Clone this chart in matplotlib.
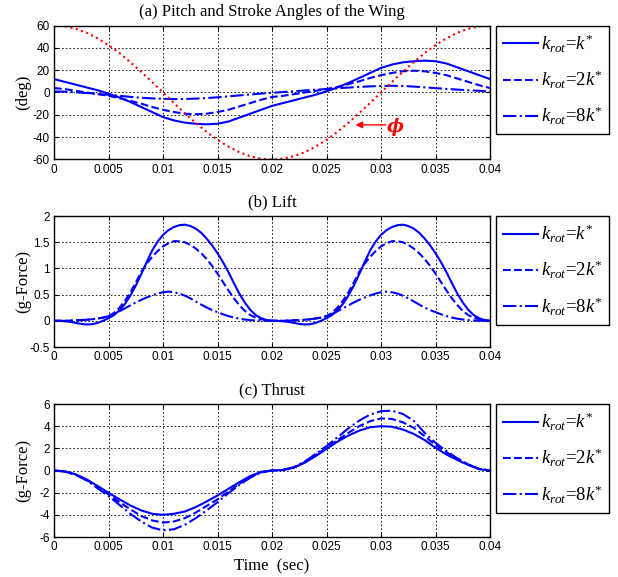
import numpy as np
import matplotlib
matplotlib.use('Agg')
import matplotlib.pyplot as plt

plt.rcParams['axes.unicode_minus'] = False
plt.rcParams['mathtext.fontset'] = 'custom'
plt.rcParams['mathtext.it'] = 'Liberation Serif:italic'
plt.rcParams['mathtext.rm'] = 'Liberation Serif'
plt.rcParams['mathtext.bf'] = 'Liberation Serif:bold'

# time samples (sec)
t = np.linspace(0, 0.04, 41)
t_fine = np.linspace(0, 0.04, 81)

# (a) pitch angle (deg) for each rotational stiffness, and the stroke angle phi
pitch_k1 = [12, 9.5, 7, 4.5, 2, -1, -4.5, -8.5, -13, -17.5, -22, -25, -27, -28, -28.5, -28, -26, -22.5, -19, -15.5, -12,
            -9.5, -7, -4.5, -2, 1, 4.5, 8.5, 13, 17.5, 22, 25, 27, 28, 28.5, 28, 26, 22.5, 19, 15.5, 12]
pitch_k2 = [4, 3, 1.5, 0, -1.5, -3, -5, -7.5, -10, -13, -15.5, -17.5, -19, -19.5, -19, -17.5, -15.5, -12.5, -9.5, -6.5, -4,
            -3, -1.5, 0, 1.5, 3, 5, 7.5, 10, 13, 15.5, 17.5, 19, 19.5, 19, 17.5, 15.5, 12.5, 9.5, 6.5, 4]
pitch_k8 = [1, 0.7, 0.2, -0.5, -1.3, -2.1, -3, -3.9, -4.7, -5.3, -5.7, -5.9, -5.8, -5.5, -5, -4.3, -3.5, -2.6, -1.8, -1, -0.3,
            0.4, 1.1, 1.8, 2.5, 3.1, 3.8, 4.4, 5, 5.5, 5.8, 6, 5.8, 5.3, 4.6, 3.9, 3.2, 2.6, 2, 1.5, 1]
phi = [60, 59.3, 57.1, 53.5, 48.5, 42.4, 35.3, 27.2, 18.5, 9.4, 0, -9.4, -18.5, -27.2, -35.3, -42.4, -48.5, -53.5, -57.1, -59.3, -60,
       -59.3, -57.1, -53.5, -48.5, -42.4, -35.3, -27.2, -18.5, -9.4, 0, 9.4, 18.5, 27.2, 35.3, 42.4, 48.5, 53.5, 57.1, 59.3, 60]

# (b) lift (g-force), read every 0.5 ms
lift_k1 = [0, 0, -0.01, -0.02, -0.04, -0.06, -0.07, -0.065, -0.04, 0,
           0.05, 0.11, 0.2, 0.32, 0.48, 0.67, 0.89, 1.12, 1.34, 1.51,
           1.64, 1.73, 1.79, 1.825, 1.835, 1.81, 1.76, 1.68, 1.57, 1.44,
           1.29, 1.12, 0.93, 0.72, 0.52, 0.35, 0.21, 0.11, 0.05, 0.015,
           0, 0, -0.01, -0.02, -0.04, -0.06, -0.07, -0.065, -0.04, 0,
           0.05, 0.11, 0.2, 0.32, 0.48, 0.67, 0.89, 1.12, 1.34, 1.51,
           1.64, 1.73, 1.79, 1.825, 1.835, 1.81, 1.76, 1.68, 1.57, 1.44,
           1.29, 1.12, 0.93, 0.72, 0.52, 0.35, 0.21, 0.11, 0.05, 0.015, 0]
lift_k2 = [0, 0, 0, 0.005, 0.01, 0.015, 0.02, 0.03, 0.045, 0.06,
           0.09, 0.15, 0.25, 0.38, 0.54, 0.73, 0.93, 1.09, 1.22, 1.33,
           1.42, 1.48, 1.52, 1.52, 1.5, 1.45, 1.38, 1.29, 1.18, 1.05,
           0.9, 0.74, 0.58, 0.43, 0.3, 0.19, 0.11, 0.06, 0.03, 0.01,
           0, 0, 0, 0.005, 0.01, 0.015, 0.02, 0.03, 0.045, 0.06,
           0.09, 0.15, 0.25, 0.38, 0.54, 0.73, 0.93, 1.09, 1.22, 1.33,
           1.42, 1.48, 1.52, 1.52, 1.5, 1.45, 1.38, 1.29, 1.18, 1.05,
           0.9, 0.74, 0.58, 0.43, 0.3, 0.19, 0.11, 0.06, 0.03, 0.01, 0]
lift_k8 = [0, 0, 0, 0.003, 0.007, 0.013, 0.02, 0.03, 0.043, 0.062,
           0.088, 0.13, 0.182, 0.238, 0.294, 0.35, 0.4, 0.445, 0.485, 0.52,
           0.545, 0.557, 0.545, 0.52, 0.48, 0.43, 0.37, 0.31, 0.255, 0.205,
           0.165, 0.125, 0.09, 0.063, 0.04, 0.025, 0.013, 0.006, 0.002, 0,
           0, 0, 0, 0.003, 0.007, 0.013, 0.02, 0.03, 0.043, 0.062,
           0.088, 0.13, 0.182, 0.238, 0.294, 0.35, 0.4, 0.445, 0.485, 0.52,
           0.545, 0.557, 0.545, 0.52, 0.48, 0.43, 0.37, 0.31, 0.255, 0.205,
           0.165, 0.125, 0.09, 0.063, 0.04, 0.025, 0.013, 0.006, 0.002, 0, 0]

# (c) thrust (g-force)
thrust_k1 = [0, -0.08, -0.35, -0.8, -1.4, -2, -2.6, -3.15, -3.6, -3.9, -4, -3.9, -3.7, -3.3, -2.8, -2.25, -1.65, -1.05, -0.5, -0.12, 0,
             0.05, 0.25, 0.7, 1.3, 1.95, 2.6, 3.15, 3.6, 3.9, 4, 3.95, 3.7, 3.3, 2.75, 2.05, 1.45, 0.95, 0.5, 0.12, 0]
thrust_k2 = [0, -0.08, -0.38, -0.85, -1.5, -2.15, -2.85, -3.5, -4.1, -4.5, -4.7, -4.6, -4.3, -3.8, -3.2, -2.6, -1.9, -1.2, -0.6, -0.15, 0,
             0.05, 0.27, 0.75, 1.4, 2.05, 2.75, 3.4, 4, 4.45, 4.7, 4.65, 4.35, 3.85, 3.1, 2.3, 1.65, 1.05, 0.55, 0.15, 0]
thrust_k8 = [0, -0.1, -0.4, -0.9, -1.6, -2.3, -3.1, -3.9, -4.6, -5.15, -5.4, -5.3, -4.9, -4.3, -3.6, -2.85, -2.05, -1.3, -0.65, -0.18, 0,
             0.06, 0.3, 0.8, 1.5, 2.2, 3, 3.8, 4.5, 5.05, 5.35, 5.4, 5.1, 4.5, 3.4, 2.5, 1.75, 1.1, 0.55, 0.15, 0]

labels = [r'$k_{rot}$=$k^{*}$', r'$k_{rot}$=$2k^{*}$', r'$k_{rot}$=$8k^{*}$']
xticks = [0, 0.005, 0.01, 0.015, 0.02, 0.025, 0.03, 0.035, 0.04]
xticklabels = ['0', '0.005', '0.01', '0.015', '0.02', '0.025', '0.03', '0.035', '0.04']

serif = 'Liberation Serif'
sans = 'Liberation Sans'
blue = '#0000ff'

fig = plt.figure(figsize=(6.18, 5.77), dpi=100)
ax_a = fig.add_axes([0.0874, 0.7236, 0.7055, 0.2322])
ax_b = fig.add_axes([0.0874, 0.3986, 0.7055, 0.2270])
ax_c = fig.add_axes([0.0874, 0.0693, 0.7055, 0.2305])


def style_axes(ax, title, ylabel, yticks, yticklabels, ylim):
    ax.set_xlim(0, 0.04)
    ax.set_ylim(*ylim)
    ax.set_xticks(xticks)
    ax.set_xticklabels(xticklabels, fontfamily=sans, fontsize=8.5)
    ax.set_yticks(yticks)
    ax.set_yticklabels(yticklabels, fontfamily=sans, fontsize=8.5)
    ax.tick_params(direction='in', length=3, top=True, right=True, width=0.8, pad=3)
    ax.grid(True, color='k', linestyle=(0, (2, 2.5)), linewidth=0.6)
    for s in ax.spines.values():
        s.set_linewidth(1.0)
    ax.set_title(title, fontfamily=serif, fontsize=12, pad=7)
    ax.set_ylabel(ylabel, fontfamily=serif, fontsize=12)
    ax.yaxis.set_label_coords(-0.052, 0.5)


def add_legend(ax, handles):
    leg = ax.legend(handles, labels, loc='upper left', bbox_to_anchor=(1.014, 1.0),
                    borderaxespad=0, fancybox=False, edgecolor='k', framealpha=1,
                    handlelength=1.85, handletextpad=0.15, labelspacing=0.75, borderpad=0.38,
                    prop={'family': serif, 'size': 13.5})
    leg.get_frame().set_linewidth(1.0)


# (a)
l1, = ax_a.plot(t, pitch_k1, color=blue, lw=1.5, ls='-')
l2, = ax_a.plot(t, pitch_k2, color=blue, lw=1.5, ls='--')
l3, = ax_a.plot(t, pitch_k8, color=blue, lw=1.5, ls='-.')
ax_a.plot(t, phi, color='red', lw=1.5, ls=':')
ax_a.annotate('', xy=(0.0274, -29), xytext=(0.0307, -29),
              arrowprops=dict(arrowstyle='-|>', color='red', lw=1.0, mutation_scale=10))
ax_a.text(0.0313, -31, '\u03d5', color='red', fontsize=13, ha='center', va='center',
          fontweight='bold', fontstyle='italic', family=['DejaVu Serif'])
style_axes(ax_a, '(a) Pitch and Stroke Angles of the Wing', '(deg)',
           [-60, -40, -20, 0, 20, 40, 60], ['-60', '-40', '-20', '0', '20', '40', '60'], (-60, 60))
add_legend(ax_a, [l1, l2, l3])

# (b)
l1, = ax_b.plot(t_fine, lift_k1, color=blue, lw=1.5, ls='-')
l2, = ax_b.plot(t_fine, lift_k2, color=blue, lw=1.5, ls='--')
l3, = ax_b.plot(t_fine, lift_k8, color=blue, lw=1.5, ls='-.')
style_axes(ax_b, '(b) Lift', '(g-Force)',
           [-0.5, 0, 0.5, 1, 1.5, 2], ['-0.5', '0', '0.5', '1', '1.5', '2'], (-0.5, 2))
add_legend(ax_b, [l1, l2, l3])

# (c)
l1, = ax_c.plot(t, thrust_k1, color=blue, lw=1.5, ls='-')
l2, = ax_c.plot(t, thrust_k2, color=blue, lw=1.5, ls='--')
l3, = ax_c.plot(t, thrust_k8, color=blue, lw=1.5, ls='-.')
style_axes(ax_c, '(c) Thrust', '(g-Force)',
           [-6, -4, -2, 0, 2, 4, 6], ['-6', '-4', '-2', '0', '2', '4', '6'], (-6, 6))
ax_c.set_xlabel('Time  (sec)', fontfamily=serif, fontsize=12, labelpad=4)
add_legend(ax_c, [l1, l2, l3])

fig.savefig('out.png', dpi=100)
